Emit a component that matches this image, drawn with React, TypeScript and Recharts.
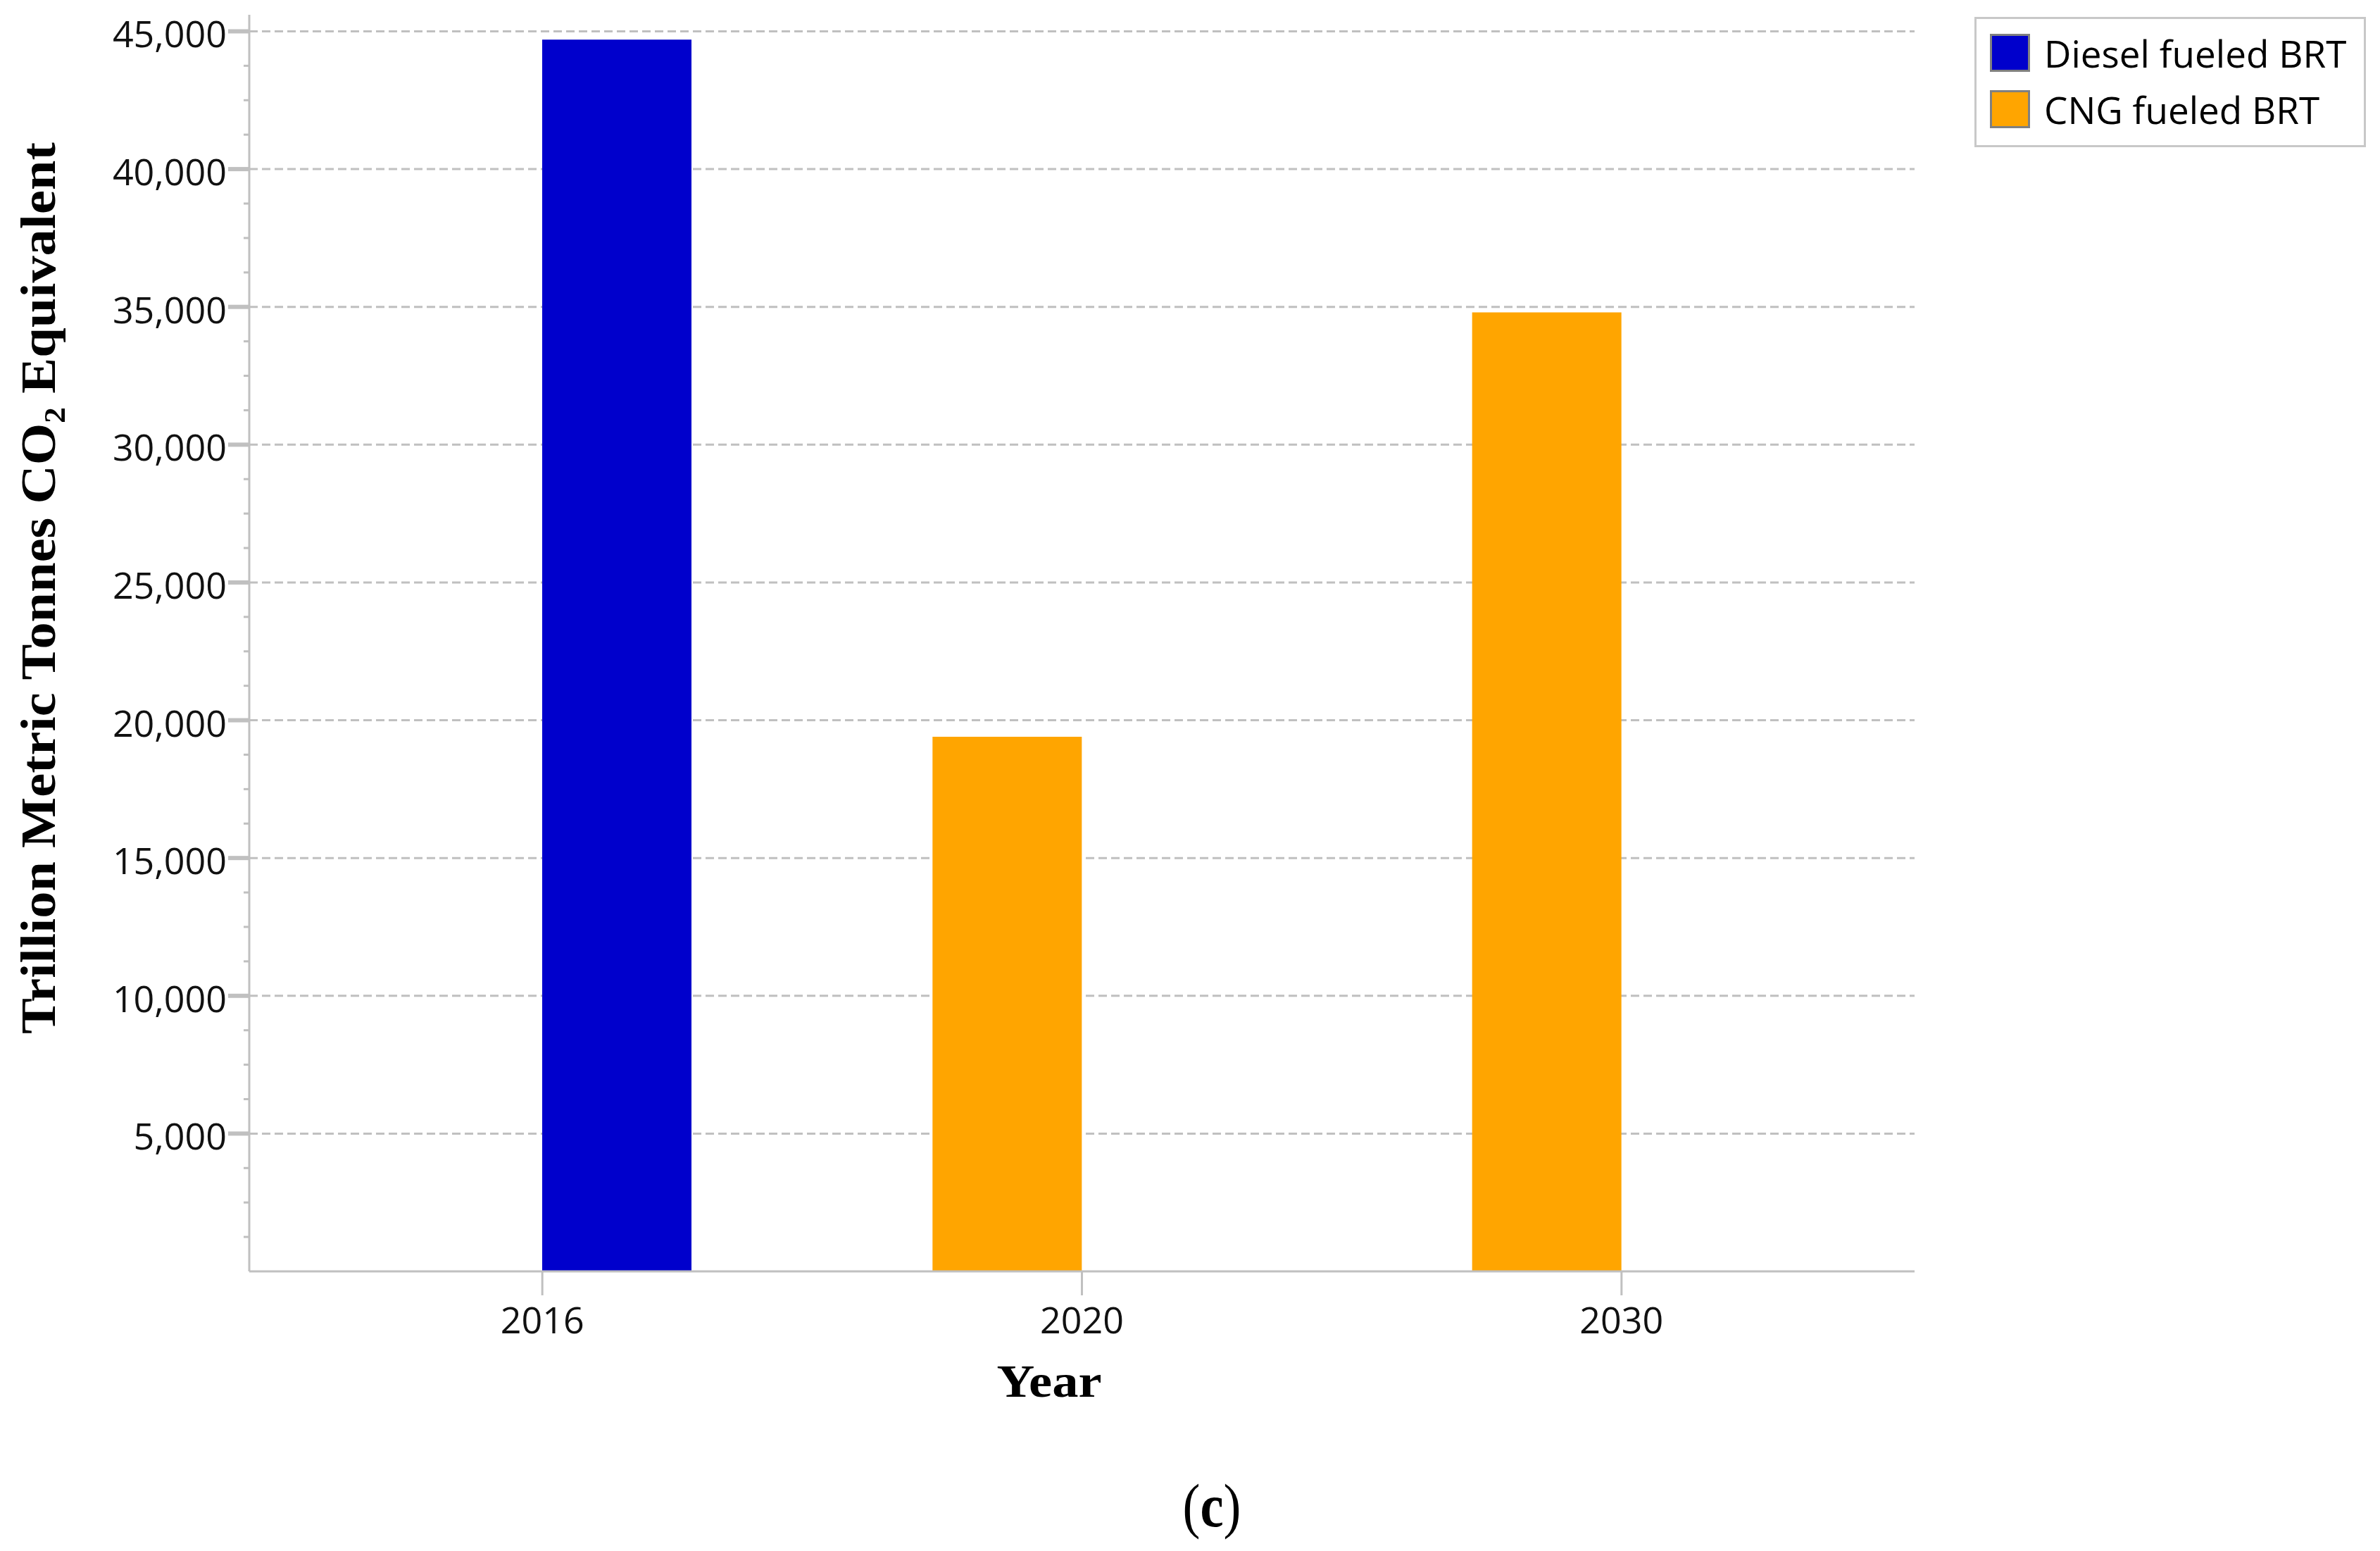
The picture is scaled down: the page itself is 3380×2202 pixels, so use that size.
import React from "react";
import { BarChart, Bar, XAxis, YAxis, Legend, CartesianGrid } from "recharts";

// values
const years = ["2016", "2020", "2030"];
const dieselValues = [44700, null, null];
const cngValues = [null, 19400, 34800];
const seriesNames = ["Diesel fueled BRT", "CNG fueled BRT"];
const seriesColors = ["#0000cc", "#ffa500"];
const gridValues = [5000, 10000, 15000, 20000, 25000, 30000, 35000, 40000, 45000];
const yTicks = [
  1250, 2500, 3750, 5000, 6250, 7500, 8750, 10000, 11250, 12500, 13750, 15000,
  16250, 17500, 18750, 20000, 21250, 22500, 23750, 25000, 26250, 27500, 28750, 30000,
  31250, 32500, 33750, 35000, 36250, 37500, 38750, 40000, 41250, 42500, 43750, 45000,
];

const data = years.map((year, i) => ({
  year,
  diesel: dieselValues[i],
  cng: cngValues[i],
}));

const sans = "'Open Sans', 'Noto Sans', sans-serif";
const serif = "'Liberation Serif', 'Times New Roman', serif";
const axisGray = "#c0c0c0";

function YTick(props: any) {
  const { x, y, payload } = props;
  const major = payload.value % 5000 === 0;
  return (
    <g>
      <line
        x1={x - (major ? 30 : 8)}
        x2={x}
        y1={y}
        y2={y}
        stroke={axisGray}
        strokeWidth={major ? 6 : 3}
      />
      {major && (
        <text x={x - 32} y={y} dy={23} textAnchor="end" fontFamily={sans} fontSize={52} fill="#111">
          {payload.value.toLocaleString("en-US")}
        </text>
      )}
    </g>
  );
}

const YLabel = () => (
  <text
    x={78}
    y={835}
    transform="rotate(-90, 78, 835)"
    textAnchor="middle"
    fontFamily={serif}
    fontWeight="bold"
    fontSize={70}
    textLength={1266}
    lengthAdjust="spacingAndGlyphs"
    fill="#000"
  >
    Trillion Metric Tonnes CO₂ Equivalent
  </text>
);

const XLabels = () => (
  <g>
    <text
      x={1490}
      y={1983}
      textAnchor="middle"
      fontFamily={serif}
      fontWeight="bold"
      fontSize={66}
      textLength={149}
      lengthAdjust="spacingAndGlyphs"
      fill="#000"
    >
      Year
    </text>
    <text
      x={1721}
      y={2167}
      textAnchor="middle"
      fontFamily={serif}
      fontSize={86}
      textLength={83}
      lengthAdjust="spacingAndGlyphs"
      fill="#000"
    >
      (<tspan fontWeight="bold">c</tspan>)
    </text>
  </g>
);

const renderLegend = () => (
  <div
    style={{
      boxSizing: "border-box",
      width: 556,
      height: 185,
      border: "3px solid #c8c8c8",
      background: "#fff",
      padding: "8px 0 0 19px",
      fontFamily: sans,
      fontSize: 53,
      color: "#000",
    }}
  >
    {seriesNames.map((name, i) => (
      <div key={name} style={{ display: "flex", alignItems: "center", height: 80 }}>
        <span
          style={{
            boxSizing: "border-box",
            width: 57,
            height: 54,
            background: seriesColors[i],
            border: "3px solid #808080",
            marginRight: 20,
            flex: "none",
          }}
        />
        <span style={{ whiteSpace: "nowrap" }}>{name}</span>
      </div>
    ))}
  </div>
);

export default function App() {
  return (
    <div style={{ position: "absolute", left: 0, top: 0, width: 3380, height: 2202, background: "#fff" }}>
      <BarChart
        width={3380}
        height={2202}
        data={data}
        margin={{ top: 21, right: 105, bottom: 277, left: 154 }}
        barGap={0}
      >
        <CartesianGrid
          vertical={false}
          horizontalValues={gridValues}
          stroke={axisGray}
          strokeWidth={3}
          strokeDasharray="12 6"
        />
        <XAxis
          dataKey="year"
          height={120}
          padding={{ left: 33, right: 33 }}
          interval={0}
          axisLine={{ stroke: axisGray, strokeWidth: 3 }}
          tickLine={{ stroke: axisGray, strokeWidth: 3 }}
          tickSize={34}
          tickMargin={17}
          tick={{ fill: "#111", fontSize: 52, fontFamily: sans }}
          label={<XLabels />}
        />
        <XAxis
          xAxisId="top"
          dataKey="year"
          orientation="top"
          height={0}
          tick={false}
          tickLine={false}
          axisLine={{ stroke: axisGray, strokeWidth: 3 }}
        />
        <YAxis
          width={200}
          domain={[0, 45600]}
          ticks={yTicks}
          interval={0}
          tickSize={0}
          tickMargin={0}
          tickLine={false}
          axisLine={{ stroke: axisGray, strokeWidth: 3 }}
          tick={<YTick />}
          label={<YLabel />}
        />
        <YAxis
          yAxisId="right"
          orientation="right"
          width={0}
          domain={[0, 45600]}
          tick={false}
          tickLine={false}
          axisLine={{ stroke: axisGray, strokeWidth: 3 }}
        />
        <Legend
          layout="vertical"
          align="right"
          verticalAlign="top"
          width={556}
          wrapperStyle={{ top: 24, right: 20 }}
          content={renderLegend}
        />
        <Bar dataKey="cng" name={seriesNames[1]} fill={seriesColors[1]} barSize={212} isAnimationActive={false} />
        <Bar dataKey="diesel" name={seriesNames[0]} fill={seriesColors[0]} barSize={212} isAnimationActive={false} />
      </BarChart>
    </div>
  );
}
